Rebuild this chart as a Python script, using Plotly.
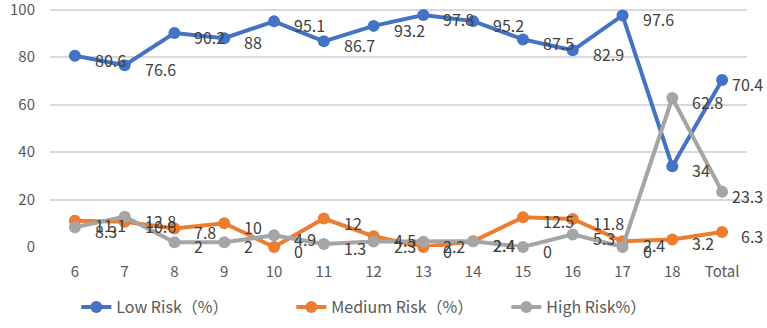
import plotly.graph_objects as go

categories = ["6", "7", "8", "9", "10", "11", "12", "13", "14", "15", "16", "17", "18", "Total"]
low_risk = [80.6, 76.6, 90.2, 88, 95.1, 86.7, 93.2, 97.8, 95.2, 87.5, 82.9, 97.6, 34, 70.4]
medium_risk = [11.1, 10.6, 7.8, 10, 0, 12, 4.5, 0, 2.4, 12.5, 11.8, 2.4, 3.2, 6.3]
high_risk = [8.3, 12.8, 2, 2, 4.9, 1.3, 2.3, 2.2, 2.4, 0, 5.3, 0, 62.8, 23.3]

series = [
    ("Low Risk（%）", low_risk, "#4472C4"),
    ("Medium Risk（%）", medium_risk, "#ED7D31"),
    ("High Risk%）", high_risk, "#A5A5A5"),
]

FONT = "Noto Sans CJK SC"

fig = go.Figure()
for name, vals, color in series:
    fig.add_trace(go.Scatter(
        x=categories, y=vals, name=name, mode="lines+markers",
        line=dict(color=color, width=4),
        marker=dict(color=color, size=12),
        cliponaxis=False,
    ))

last = len(categories) - 1
for name, vals, color in series:
    for i, v in enumerate(vals):
        if i == last:
            anchor, shift = "right", 43
        else:
            anchor, shift = "left", 18
        fig.add_annotation(
            x=i, y=v, text=f"{v:g}", showarrow=False,
            xanchor=anchor, yanchor="middle", xshift=shift, yshift=-4,
            font=dict(family=FONT, size=16, color="#404040"),
        )

fig.update_layout(
    width=767, height=328,
    margin=dict(l=50, r=20, t=5, b=81, autoexpand=False),
    paper_bgcolor="white", plot_bgcolor="white",
    font=dict(family=FONT, size=16, color="#595959"),
    showlegend=True,
    legend=dict(
        orientation="h", xref="container", yref="container",
        x=0.52, xanchor="center", y=0.064, yanchor="middle",
        entrywidth=170,
        font=dict(family=FONT, size=16, color="#595959"),
    ),
    xaxis=dict(
        type="category", range=[-0.5, 13.5], showgrid=False,
        showline=False, zeroline=False, ticks="", automargin=False,
        ticklabelstandoff=14,
        tickfont=dict(family=FONT, size=15, color="#595959"),
    ),
    yaxis=dict(
        range=[0, 102], tickvals=[0, 20, 40, 60, 80, 100],
        showgrid=True, gridcolor="#D9D9D9", gridwidth=1.5,
        zeroline=False, showline=False, ticks="", automargin=False,
        ticklabelstandoff=14, ticklabeloverflow="allow",
        tickfont=dict(family=FONT, size=15, color="#595959"),
    ),
)

fig.write_html("out.html")
